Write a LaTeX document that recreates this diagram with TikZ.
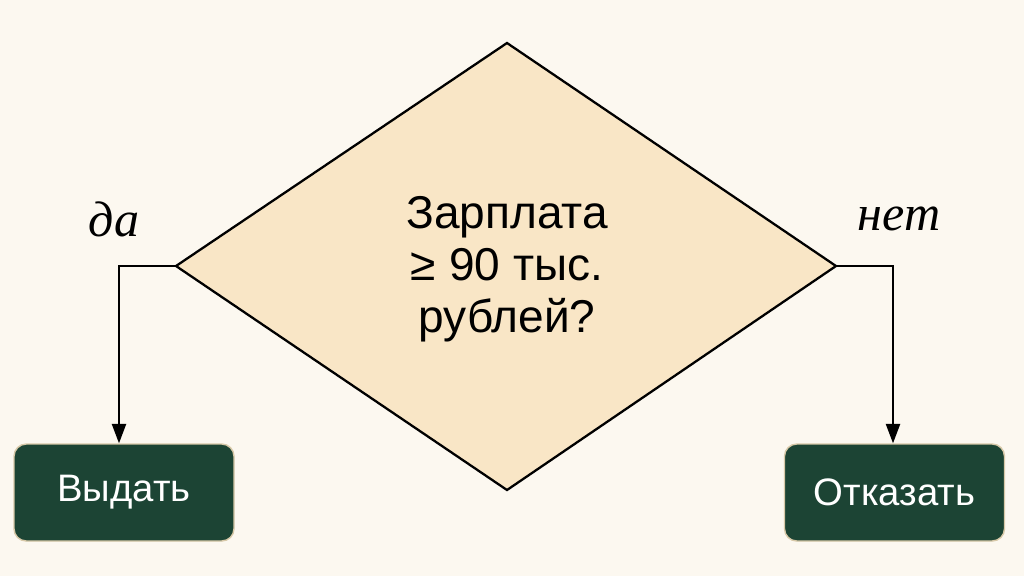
\documentclass[tikz,border=0pt]{standalone}
\usepackage{fontspec}
\setmainfont{Liberation Sans}
\newfontfamily\labfont{Liberation Serif}
\usetikzlibrary{shapes.geometric,arrows.meta}
\definecolor{bgc}{HTML}{FCF8F0}
\definecolor{diafill}{HTML}{F9E6C6}
\definecolor{boxfill}{HTML}{1C4434}
\definecolor{boxedge}{HTML}{D8C9A8}
\tikzset{
  decision/.style={draw=black, line width=1.3pt, fill=diafill},
  outbox/.style={draw=boxedge, line width=0.8pt, fill=boxfill, rounded corners=7pt,
    minimum width=220*0.02cm, minimum height=97*0.02cm, inner sep=0pt,
    text=white, font=\fontsize{21.8}{26}\selectfont},
  conn/.style={draw=black, line width=1.1pt, -{Triangle[length=11pt,width=8pt]}},
  anslab/.style={font=\labfont\itshape\fontsize{28.5}{34}\selectfont},
  qtext/.style={align=center, font=\fontsize{26.2}{29.5}\selectfont}
}
\begin{document}
\begin{tikzpicture}[x=0.02cm,y=-0.02cm]
\fill[bgc] (0,0) rectangle (1024,576);
\useasboundingbox (0,0) rectangle (1024,576);
\coordinate (dT) at (507,43);
\coordinate (dB) at (507,490);
\coordinate (dL) at (176,266);
\coordinate (dR) at (836,266);
\path[decision] (dT) -- (dR) -- (dB) -- (dL) -- cycle;
\node[qtext] (q) at (507,269) {Зарплата\\≥ 90 тыс.\\рублей?};
\node[outbox] (yes) at (124,492.5) {\raisebox{-3pt}{Выдать}};
\node[outbox] (no) at (894.5,492.5) {\raisebox{-1.5pt}{Отказать}};
\coordinate (yc) at (119,266);
\coordinate (nc) at (893,266);
\draw[conn] (dL) -- (yc) -- (yc |- yes.north);
\draw[conn] (dR) -- (nc) -- (nc |- no.north);
\node[anslab] (da) at (114,219) {да};
\node[anslab] (net) at (899,219) {нет};
\end{tikzpicture}
\end{document}
